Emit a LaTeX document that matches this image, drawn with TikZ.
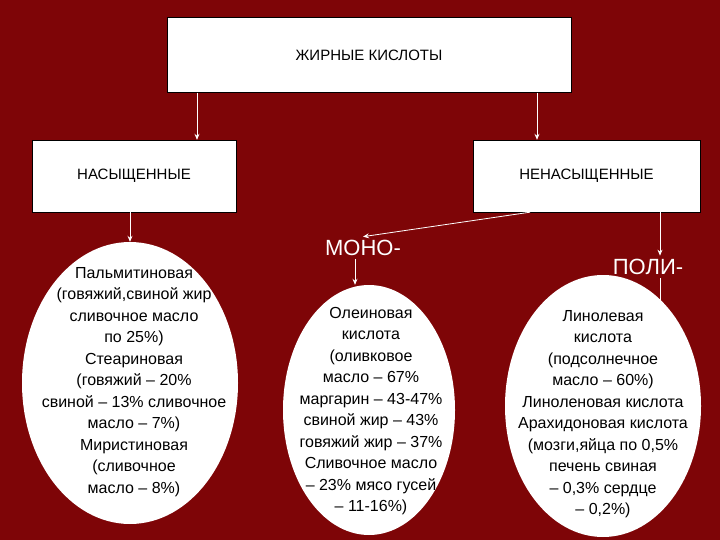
\documentclass[tikz,border=0pt]{standalone}
\usepackage{fontspec}
\setmainfont{Liberation Sans}
\usetikzlibrary{shapes.geometric,arrows.meta}
\definecolor{bg}{HTML}{7E0507}
\begin{document}
\begin{tikzpicture}[x=1pt,y=-1pt,
  box/.style={draw=black,fill=white,inner sep=0pt,font=\fontsize{15}{17}\selectfont},
  ell/.style={ellipse,fill=white,inner sep=0pt},
  etext/.style={align=center,font=\fontsize{16}{21.5}\selectfont},
  lab/.style={text=white,font=\fontsize{22}{24}\selectfont},
  arr/.style={draw=white,line width=0.8pt,-{Stealth[length=6pt,width=5pt]}}]
\fill[bg] (0,0) rectangle (720,540);
\useasboundingbox (0,0) rectangle (720,540);
\node[box,minimum width=404pt,minimum height=75pt] (top) at (369,55) {ЖИРНЫЕ КИСЛОТЫ};
\node[box,minimum width=204pt,minimum height=72pt] (sat) at (134,176) {НАСЫЩЕННЫЕ};
\node[box,minimum width=227pt,minimum height=72pt] (uns) at (586.5,176) {НЕНАСЫЩЕННЫЕ};
\node[ell,minimum width=216pt,minimum height=282pt] (e1) at (130,383) {};
\node[ell,minimum width=172pt,minimum height=250pt] (e2) at (369,410) {};
\node[ell,minimum width=196pt,minimum height=262pt] (e3) at (603,406) {};
\node[etext] (t1) at (134,382) {Пальмитиновая\\(говяжий,свиной жир\\сливочное масло\\по 25\%)\\Стеариновая\\(говяжий – 20\%\\свиной – 13\% сливочное\\масло – 7\%)\\Миристиновая\\(сливочное\\масло – 8\%)};
\node[etext] (t2) at (371,411) {Олеиновая\\кислота\\(оливковое\\масло – 67\%\\маргарин – 43-47\%\\свиной жир – 43\%\\говяжий жир – 37\%\\Сливочное масло\\– 23\% мясо гусей\\– 11-16\%)};
\node[etext] (t3) at (603,414) {Линолевая\\кислота\\(подсолнечное\\масло – 60\%)\\Линоленовая кислота\\Арахидоновая кислота\\(мозги,яйца по 0,5\%\\печень свиная\\– 0,3\% сердце\\– 0,2\%)};
\node[lab] (mono) at (363,248) {МОНО-};
\node[lab] (poli) at (648,267) {ПОЛИ-};
\draw[arr] (top.south -| 197,0) -- (sat.north -| 197,0);
\draw[arr] (top.south -| 537,0) -- (uns.north -| 537,0);
\draw[arr] (sat.south -| 130,0) -- (e1.north);
\draw[arr] (uns.south -| 530,0) -- (mono.north);
\draw[arr] (uns.south -| 660,0) -- (poli.north -| 660,0);
\draw[arr] (mono.south -| 355,0) -- (e2.north -| 355,0);
\draw[arr] (poli.south -| 660,0) -- (660,308);
\end{tikzpicture}
\end{document}
